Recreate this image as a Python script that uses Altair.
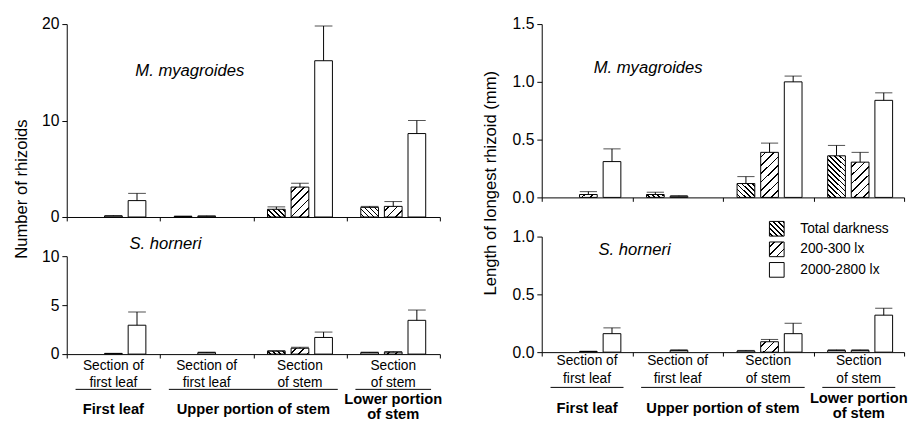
import math
import json
import altair as alt

FONT = "Liberation Sans"

groups = ["G1", "G2", "G3", "G4"]
section_labels = ["Section of\nfirst leaf", "Section of\nfirst leaf", "Section\nof stem", "Section\nof stem"]
region_labels = ["First leaf", "Upper portion of stem", "Lower portion\nof stem"]
region_start = ["G1", "G2", "G4"]
region_end = ["G1", "G3", "G4"]
conditions = ["Total darkness", "200-300 lx", "2000-2800 lx"]

# rows: groups G1..G4 ; columns: Total darkness, 200-300 lx, 2000-2800 lx
num_myag_mean = [[0, 0.1, 1.7], [0.05, 0.08, 0], [0.8, 3.1, 16.2], [1.0, 1.1, 8.65]]
num_myag_se = [[0, 0.05, 0.75], [0.05, 0.04, 0], [0.25, 0.4, 3.6], [0.1, 0.5, 1.35]]
num_horn_mean = [[0, 0.05, 2.95], [0, 0.15, 0], [0.3, 0.6, 1.7], [0.15, 0.2, 3.45]]
num_horn_se = [[0, 0.03, 1.35], [0, 0.05, 0], [0.05, 0.1, 0.55], [0.05, 0.05, 1.05]]
len_myag_mean = [[0, 0.025, 0.31], [0.025, 0.01, 0], [0.12, 0.39, 1.0], [0.36, 0.305, 0.84]]
len_myag_se = [[0, 0.025, 0.11], [0.02, 0.005, 0], [0.06, 0.08, 0.05], [0.09, 0.085, 0.065]]
len_horn_mean = [[0, 0.005, 0.16], [0, 0.015, 0], [0.01, 0.09, 0.16], [0.015, 0.015, 0.32]]
len_horn_se = [[0, 0.003, 0.05], [0, 0.005, 0], [0.005, 0.02, 0.09], [0.005, 0.005, 0.06]]

# hatch style per condition: (direction, period px, line width px)
HATCH = {"Total darkness": ("\\", 3.6, 1.2), "200-300 lx": ("/", 6.0, 1.2)}


def hatch_gradient(w, h, period, lw, kind):
    L = (w + h) / math.sqrt(2)
    s = (w + h) / (w * w + h * h)
    if kind == "/":
        x1, y1, x2, y2 = 0, 0, w * s, h * s
    else:
        x1, y1, x2, y2 = 0, 1, w * s, 1 - h * s
    stops = [{"offset": 0, "color": "white"}]
    o = period * 0.5
    while o < L:
        a = round(o / L, 4)
        b = round(min((o + lw) / L, 1), 4)
        stops += [
            {"offset": a, "color": "white"},
            {"offset": a, "color": "black"},
            {"offset": b, "color": "black"},
            {"offset": b, "color": "white"},
        ]
        o += period
    stops.append({"offset": 1, "color": "white"})
    return {"gradient": "linear", "x1": round(x1, 4), "y1": round(y1, 4),
            "x2": round(x2, 4), "y2": round(y2, 4), "stops": stops}


def axis_x():
    return alt.Axis(title=None, labels=False, ticks=True, tickBand="extent", tickSize=4,
                    tickColor="black", domainColor="black", tickWidth=1, domainWidth=1, grid=False)


def text_layer(data, xdef, y, size, weight, filt=None):
    c = alt.Chart(data).mark_text(font=FONT, fontSize=size, fontWeight=weight, lineBreak="\n",
                                  lineHeight=15 if size == 15 else 18, baseline="middle",
                                  color="black").encode(x=xdef, y=alt.value(y), text="label:N")
    if filt:
        c = c.transform_filter(filt)
    return c


def panel(mean, se, ymax, yvalues, fmt, width, height, species, sdx, sdy,
          ytitle=None, ytx=0, yty=0, bottom=None, legend=None):
    gw = width / 4.0
    step = gw / 3.95
    bw = step * 0.75
    k = height / ymax
    recs = []
    for gi, g in enumerate(groups):
        for ci, c in enumerate(conditions):
            v = mean[gi][ci]
            e = se[gi][ci]
            h = v * k
            if c in HATCH and h >= 2:
                kind, per, lw = HATCH[c]
                grad = hatch_gradient(bw, h, per, lw, kind)
            else:
                grad = "white"
            recs.append({"group": g, "cond": c, "value": v, "se": e, "top": v + e, "grad": grad})
    data = alt.Data(values=recs)

    xscale = alt.Scale(domain=groups, paddingInner=0, paddingOuter=0)
    X = alt.X("group:N", scale=xscale, axis=axis_x())
    XO = alt.XOffset("cond:N", scale=alt.Scale(domain=conditions, paddingInner=0.25, paddingOuter=0.6))
    yscale = alt.Scale(domain=[0, ymax], nice=False, zero=True)
    yaxis_kw = dict(values=yvalues, format=fmt, tickSize=5, labelPadding=3, labelFontSize=16,
                    labelFont=FONT, labelColor="black", domainColor="black", tickColor="black",
                    grid=False, labelOverlap=False)
    if ytitle:
        yaxis = alt.Axis(title=ytitle, titleX=ytx, titleY=yty, titleAngle=270, titleAlign="center",
                         titleBaseline="middle", titleFontSize=17, titleFont=FONT,
                         titleFontWeight="normal", titleColor="black", **yaxis_kw)
    else:
        yaxis = alt.Axis(title=None, **yaxis_kw)

    bars = alt.Chart(data).mark_bar(stroke="black", strokeWidth=1).encode(
        x=X, xOffset=XO, y=alt.Y("value:Q", scale=yscale, axis=yaxis),
        fill=alt.Fill("grad:N", scale=None),
    ).transform_filter("datum.value > 0")
    err = alt.Chart(data).mark_rule(color="black", strokeWidth=1).encode(
        x=X, xOffset=XO, y=alt.Y("value:Q", scale=yscale, axis=yaxis), y2="top:Q",
    ).transform_filter("datum.se > 0")
    cap = alt.Chart(data).mark_tick(color="black", thickness=1, size=bw, orient="horizontal").encode(
        x=X, xOffset=XO, y=alt.Y("top:Q", scale=yscale, axis=yaxis),
    ).transform_filter("datum.se > 0")
    layers = [bars, err, cap]

    if bottom is not None:
        sec_y, ul_y, reg_y1, reg_y2 = bottom
        sec_data = alt.Data(values=[{"group": g, "label": l} for g, l in zip(groups, section_labels)])
        reg_data = alt.Data(values=[{"start": s, "end": e, "label": l}
                                    for s, e, l in zip(region_start, region_end, region_labels)])
        sec = text_layer(sec_data, alt.X("group:N", scale=xscale, axis=axis_x()), sec_y, 14, "normal")
        ul = alt.Chart(reg_data).mark_rule(color="black", strokeWidth=1, xOffset=9, x2Offset=-9).encode(
            x=alt.X("start:N", scale=xscale, axis=axis_x(), bandPosition=0),
            x2=alt.X2("end:N", bandPosition=1), y=alt.value(ul_y))
        single_x = alt.X("start:N", scale=xscale, axis=axis_x(), bandPosition=0.5)
        multi_x = alt.X("end:N", scale=xscale, axis=axis_x(), bandPosition=0)
        reg1 = text_layer(reg_data, single_x, reg_y1, 15, "bold",
                          "datum.start == datum.end && indexof(datum.label, '\\n') < 0")
        reg1b = text_layer(reg_data, single_x, reg_y2, 15, "bold",
                           "datum.start == datum.end && indexof(datum.label, '\\n') >= 0")
        reg2 = text_layer(reg_data, multi_x, reg_y1, 15, "bold", "datum.start != datum.end")
        layers += [sec, ul, reg1, reg1b, reg2]

    if legend is not None:
        lx, ly = legend
        side = 15
        gdark = hatch_gradient(side, side, HATCH["Total darkness"][1], HATCH["Total darkness"][2], "\\")
        gmid = hatch_gradient(side, side, HATCH["200-300 lx"][1], HATCH["200-300 lx"][2], "/")
        leg = alt.Chart(data).mark_square(stroke="black", strokeWidth=1, opacity=1, size=side * side).encode(
            color=alt.Color("cond:N",
                            scale=alt.Scale(domain=conditions,
                                            range=[alt.ExprRef(json.dumps(gdark)), alt.ExprRef(json.dumps(gmid)), "white"]),
                            legend=alt.Legend(orient="none", legendX=lx, legendY=ly, title=None,
                                              symbolType="square", symbolSize=side * side,
                                              symbolStrokeColor="black", symbolStrokeWidth=1,
                                              symbolOpacity=1,
                                              labelFont=FONT, labelFontSize=14, labelColor="black",
                                              labelOffset=16, rowPadding=1, padding=0)),
        ).transform_filter("datum.value < 0")
        layers.append(leg)

    return alt.layer(*layers).properties(
        width=width, height=height,
        title=alt.TitleParams(species, anchor="start", frame="group", dx=sdx, dy=sdy, offset=0,
                              baseline="middle", font=FONT, fontSize=17, fontStyle="italic",
                              fontWeight="normal", color="black"),
    )


lt = panel(num_myag_mean, num_myag_se, 20, [0, 10, 20], "d", 381, 197, "M. myagroides", 70, 73,
           ytitle="Number of rhizoids", ytx=-46, yty=168)
rt = panel(len_myag_mean, len_myag_se, 1.5, [0, 0.5, 1.0, 1.5], ".1f", 370, 177, "M. myagroides", 53, 70,
           ytitle="Length of longest rhizoid  (mm)", ytx=-52, yty=162)
lb = panel(num_horn_mean, num_horn_se, 10, [0, 5, 10], "d", 381, 100, "S. horneri", 64, 13,
           bottom=(112, 136, 156, 146))
rb = panel(len_horn_mean, len_horn_se, 1.0, [0, 0.5, 1.0], ".1f", 370, 118, "S. horneri", 58, 47,
           bottom=(127, 154, 175, 165), legend=(232, -16))

left_col = alt.vconcat(lt, lb, spacing=40, bounds="flush").resolve_scale(color="independent").resolve_legend(color="independent")
right_col = alt.vconcat(rt, rb, spacing=40, bounds="flush").resolve_scale(color="independent").resolve_legend(color="independent")

chart = alt.hconcat(left_col, right_col, spacing=40).resolve_scale(color="independent").resolve_legend(color="independent").properties(
    padding={"left": 5, "top": 4, "right": 0, "bottom": 0}
).configure(font=FONT).configure_view(stroke=None)

chart.save("out.html", embed_options={"renderer": "svg", "actions": False})
